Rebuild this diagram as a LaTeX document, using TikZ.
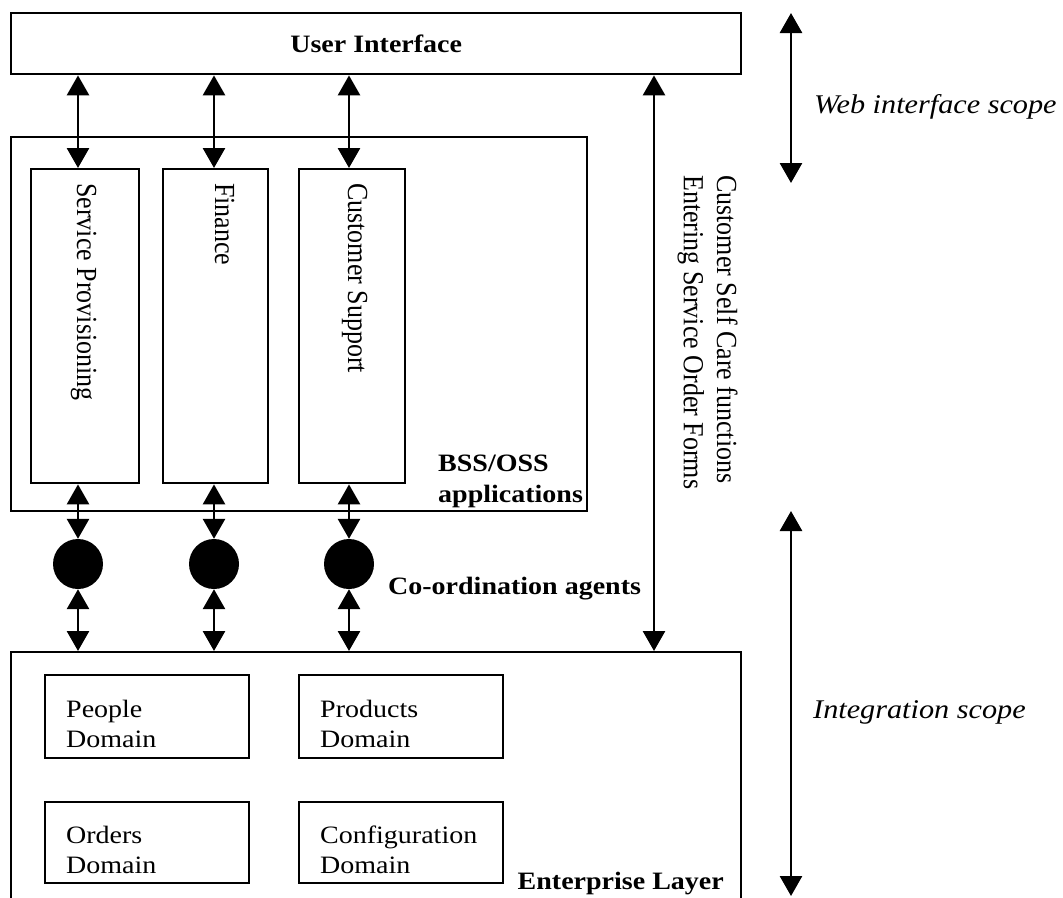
\documentclass[tikz,border=0pt]{standalone}
\usepackage{fontspec}
\setmainfont{Liberation Serif}
\newfontfamily\widefont{Liberation Serif}[FakeStretch=1.12]
\usetikzlibrary{arrows.meta}

\tikzset{
  bigtri/.tip={Triangle[length=20pt,width=22pt]},
}

\begin{document}
\begin{tikzpicture}[x=1pt,y=-1pt,
  frame/.style={draw, line width=2.4pt, rectangle, inner sep=0pt, anchor=north west},
  conn/.style={line width=2.8pt, bigtri-bigtri},
  agent/.style={circle, fill=black, minimum size=50pt, inner sep=0pt},
  lbl/.style={inner sep=0pt, font=\widefont\fontsize{25}{30}\selectfont},
  rot/.style={rotate=-90, anchor=base west, inner sep=0pt, font=\fontsize{26}{29.5}\selectfont},
]
\useasboundingbox (0,0) rectangle (1063,897);

% top layer
\node[frame, minimum width=730pt, minimum height=61pt,
      font=\widefont\fontsize{25}{30}\selectfont\bfseries] (ui) at (10,12) {User Interface};

% BSS/OSS applications
\node[frame, minimum width=576pt, minimum height=374pt] (bss) at (10,136) {};
\node[frame, minimum width=108pt, minimum height=314pt] (sp) at (30,168) {};
\node[frame, minimum width=105pt, minimum height=314pt] (fin) at (162,168) {};
\node[frame, minimum width=106pt, minimum height=314pt] (cs) at (298,168) {};
\node[rot] (sptxt) at (77,183) {\scalebox{1}[1.12]{Service Provisioning}};
\node[rot] (fintxt) at (215,183) {\scalebox{1}[1.12]{Finance}};
\node[rot] (cstxt) at (348,183) {\scalebox{1}[1.12]{Customer Support}};
\node[lbl, anchor=base west, font=\widefont\fontsize{25}{31}\selectfont\bfseries] (bsstxt) at (438,471)
  {\begin{tabular}[t]{@{}l@{}}BSS/OSS\\applications\end{tabular}};

% co-ordination agents
\node[agent] (ag1) at (78,564) {};
\node[agent] (ag2) at (214,564) {};
\node[agent] (ag3) at (349,564) {};
\node[lbl, anchor=base west, font=\widefont\fontsize{25}{30}\selectfont\bfseries] (agtxt) at (388,594) {Co-ordination agents};

% enterprise layer
\node[frame, minimum width=730pt, minimum height=280pt] (ent) at (10,651) {};
\node[frame, minimum width=204pt, minimum height=83pt] (people) at (44,674) {};
\node[frame, minimum width=204pt, minimum height=83pt] (products) at (298,674) {};
\node[frame, minimum width=204pt, minimum height=81pt] (orders) at (44,801) {};
\node[frame, minimum width=204pt, minimum height=81pt] (config) at (298,801) {};
\node[lbl, anchor=base west] (peopletxt) at (66,717) {\begin{tabular}[t]{@{}l@{}}People\\Domain\end{tabular}};
\node[lbl, anchor=base west] (productstxt) at (320,717) {\begin{tabular}[t]{@{}l@{}}Products\\Domain\end{tabular}};
\node[lbl, anchor=base west] (orderstxt) at (66,843) {\begin{tabular}[t]{@{}l@{}}Orders\\Domain\end{tabular}};
\node[lbl, anchor=base west] (configtxt) at (320,843) {\begin{tabular}[t]{@{}l@{}}Configuration\\Domain\end{tabular}};
\node[lbl, anchor=base east, font=\widefont\fontsize{25}{30}\selectfont\bfseries] (enttxt) at (724,889) {Enterprise Layer};

% connector columns
\coordinate (c1) at (78,0);
\coordinate (c2) at (214,0);
\coordinate (c3) at (349,0);
\coordinate (c4) at (654,0);

\draw[conn] (c1 |- ui.south) -- (c1 |- sp.north);
\draw[conn] (c2 |- ui.south) -- (c2 |- fin.north);
\draw[conn] (c3 |- ui.south) -- (c3 |- cs.north);

\draw[conn] (c1 |- sp.south) -- (ag1.north);
\draw[conn] (c2 |- fin.south) -- (ag2.north);
\draw[conn] (c3 |- cs.south) -- (ag3.north);

\draw[conn] (ag1.south) -- (c1 |- ent.north);
\draw[conn] (ag2.south) -- (c2 |- ent.north);
\draw[conn] (ag3.south) -- (c3 |- ent.north);

% self care path from the web front end straight to the enterprise layer
\draw[conn] (c4 |- ui.south) -- (c4 |- ent.north);
\node[rot] (selfcare) at (717,175) {\scalebox{1}[1.12]{\begin{tabular}[t]{@{}l@{}}Customer Self Care functions\\Entering Service Order Forms\end{tabular}}};

% scope markers
\coordinate (w1) at (791,13);
\coordinate (w2) at (791,183);
\coordinate (i1) at (791,511);
\coordinate (i2) at (791,896);
\draw[conn] (w1) -- (w2);
\draw[conn] (i1) -- (i2);
\node[lbl, anchor=base west, font=\widefont\fontsize{27}{32}\selectfont\itshape] (webtxt) at (814,113) {Web interface scope};
\node[lbl, anchor=base west, font=\widefont\fontsize{27}{32}\selectfont\itshape] (inttxt) at (813,718) {Integration scope};
\end{tikzpicture}
\end{document}
